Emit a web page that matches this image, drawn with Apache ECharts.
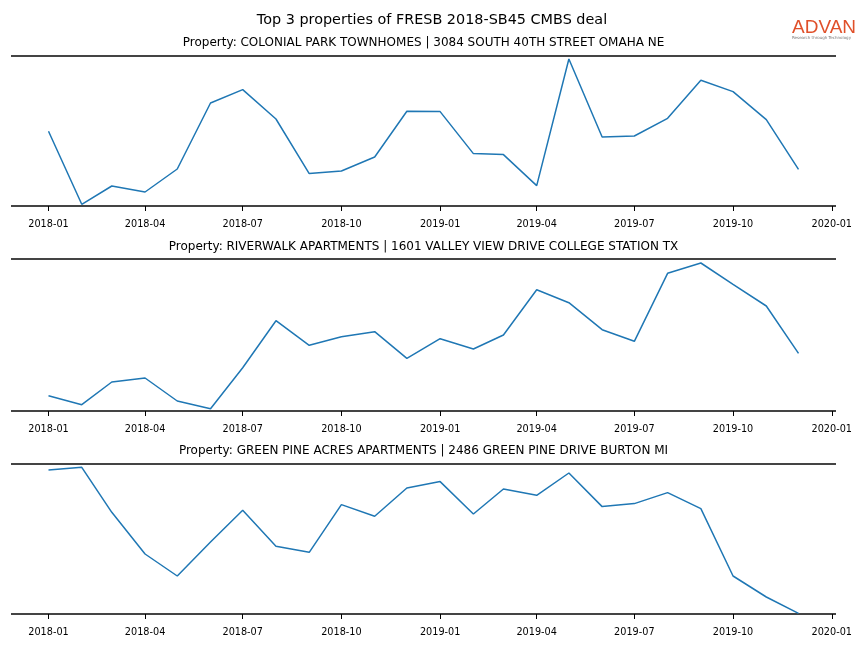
<!DOCTYPE html>
<html><head><meta charset="utf-8">
<script src="https://cdn.jsdelivr.net/npm/echarts@6/dist/echarts.min.js"></script>
<style>html,body{margin:0;padding:0;background:#fff}#c{width:864px;height:648px}</style>
</head><body><div id="c"></div>
<script>
const months = ['2018-01','2018-02','2018-03','2018-04','2018-05','2018-06','2018-07','2018-08','2018-09','2018-10','2018-11','2018-12',
                '2019-01','2019-02','2019-03','2019-04','2019-05','2019-06','2019-07','2019-08','2019-09','2019-10','2019-11','2019-12'];
const tickLabels = ['2018-01','2018-04','2018-07','2018-10','2019-01','2019-04','2019-07','2019-10','2020-01'];
const mainTitle = 'Top 3 properties of FRESB 2018-SB45 CMBS deal';
const panelTitles = [
  'Property: COLONIAL PARK TOWNHOMES | 3084 SOUTH 40TH STREET OMAHA NE',
  'Property: RIVERWALK APARTMENTS | 1601 VALLEY VIEW DRIVE COLLEGE STATION TX',
  'Property: GREEN PINE ACRES APARTMENTS | 2486 GREEN PINE DRIVE BURTON MI'
];
const colonialPark = [74.7, 1.7, 20, 14, 37, 103, 116.4, 87, 32.4, 35, 49, 94.7,
                      94.4, 52.4, 51.4, 20.4, 147, 69, 70, 87.7, 125.7, 114.4, 86.4, 36.7];
const riverwalk = [15.3, 6.3, 29, 33, 10, 2.3, 43.3, 90.3, 65.7, 74.3, 79.3, 52.7,
                   72.3, 62, 76, 121.3, 108.3, 81.3, 69.7, 137.7, 148, 126.7, 105, 57.7];
const greenPine = [144, 146.7, 101.7, 60, 38, 72, 103.7, 67.7, 61.7, 109.4, 97.7, 126,
                   132.4, 100, 125, 118.7, 141, 107.4, 110.4, 121.4, 105.4, 38, 17, 0.7];
const yMax = [150, 152, 150];

function ts(s) { const [y, m] = s.split('-').map(Number); return Date.UTC(y, m - 1, 1); }
function fmt(v) { const d = new Date(v); return d.getUTCFullYear() + '-' + String(d.getUTCMonth() + 1).padStart(2, '0'); }

const first = ts(months[0]), last = ts(months[months.length - 1]);
const xMin = first - 0.05 * (last - first), xMax = last + 0.05 * (last - first);
const tickVals = tickLabels.map(ts);

const seriesData = [colonialPark, riverwalk, greenPine];
const gridTops = [56, 259, 464];
const titleTops = [36.5, 240.5, 444.5];
const FONT = 'DejaVu Sans';

const chart = echarts.init(document.getElementById('c'), null, { renderer: 'canvas' });
const option = {
  animation: false,
  backgroundColor: '#fff',
  title: [
    { text: mainTitle, left: 432, top: 13, textAlign: 'center', padding: 0,
      textStyle: { fontFamily: FONT, fontSize: 14.4, fontWeight: 'normal', color: '#000' } }
  ].concat(panelTitles.map((t, i) => ({
    text: t, left: 423.5, top: titleTops[i], textAlign: 'center', padding: 0,
    textStyle: { fontFamily: FONT, fontSize: 12, fontWeight: 'normal', color: '#000' }
  }))),
  grid: gridTops.map((t, i) => ({ left: 11, right: 28, top: t, height: yMax[i] })),
  xAxis: gridTops.map((t, i) => ({
    type: 'value', gridIndex: i, min: xMin, max: xMax, offset: 6,
    axisLine: { show: false },
    axisTick: { show: true, customValues: tickVals, length: 5, lineStyle: { color: '#000', width: 1 } },
    axisLabel: { customValues: tickVals, formatter: fmt, fontFamily: FONT, fontSize: 9.7, color: '#000', margin: 7, hideOverlap: false },
    splitLine: { show: false }
  })),
  yAxis: yMax.map((m, i) => ({
    type: 'value', gridIndex: i, min: 0, max: m, interval: m,
    axisLine: { show: false }, axisTick: { show: false }, axisLabel: { show: false },
    splitLine: { show: true, lineStyle: { color: '#444', width: 2 } }
  })),
  series: seriesData.map((vals, i) => ({
    type: 'line', xAxisIndex: i, yAxisIndex: i, showSymbol: false, symbol: 'none',
    data: months.map((m, k) => [ts(m), vals[k]]),
    lineStyle: { color: '#1f77b4', width: 1.5 }, itemStyle: { color: '#1f77b4' }
  })),
  graphic: [
    { type: 'text', left: 792, top: 18, style: { text: 'ADVAN', fontFamily: 'Liberation Sans', fontSize: 19, fill: '#e0502a' } },
    { type: 'text', left: 792, top: 36, style: { text: 'Research through Technology', fontFamily: FONT, fontSize: 4, fill: '#777' } }
  ]
};
chart.setOption(option);
</script>
</body></html>
